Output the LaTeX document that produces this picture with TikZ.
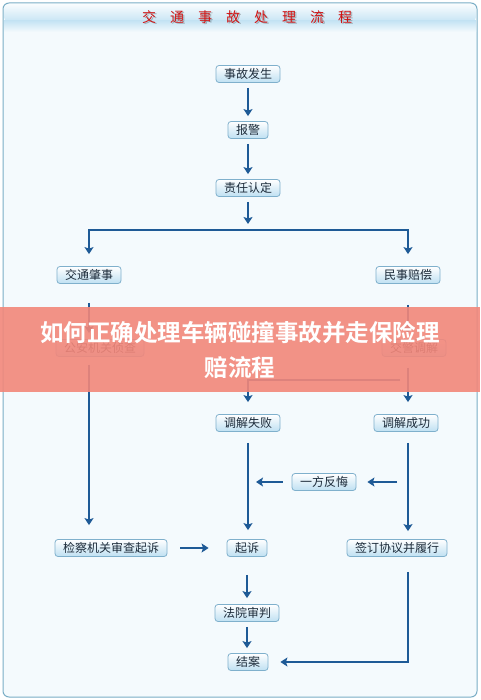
\documentclass[tikz,border=0pt]{standalone}
\usepackage{fontspec}
\newfontfamily\cjk{Noto Sans CJK SC}
\newfontfamily\cjkbold{Noto Sans CJK SC Bold}
\usetikzlibrary{arrows.meta}
\definecolor{flowblue}{HTML}{1E5A96}
\definecolor{boxline}{HTML}{7FB0CC}
\definecolor{boxfill}{HTML}{BFE0F2}
\definecolor{boxtext}{HTML}{1C2B3A}
\definecolor{pagebg}{HTML}{F4FAFD}
\definecolor{frameline}{HTML}{7AAEC6}
\definecolor{bandblue}{HTML}{C6E4F4}
\definecolor{titlered}{HTML}{D01414}
\definecolor{banner}{HTML}{F2877A}
\tikzset{
  box/.style={draw=boxline, line width=0.8pt, rounded corners=3pt, top color=white, bottom color=boxfill,
    minimum height=17pt, inner xsep=8pt, inner ysep=0pt, text=boxtext, font=\cjk\fontsize{12}{12}\selectfont},
  link/.style={draw=flowblue, line width=2pt, -{Stealth[length=7pt,width=9pt,inset=1.5pt]}, shorten <=5pt, shorten >=5pt},
  titlechar/.style={font=\cjk\fontsize{14}{14}\selectfont, inner sep=0pt}
}
\begin{document}
\begin{tikzpicture}[x=1pt,y=-1pt]
\useasboundingbox (0,0) rectangle (480,700);
\fill[white] (0,0) rectangle (480,700);
\draw[frameline, fill=pagebg, line width=1pt, rounded corners=6pt] (3,3) rectangle (477,697);
\shade[top color=pagebg!60!white, bottom color=bandblue, rounded corners=5pt] (4,4) rectangle (476,22);
\shade[top color=bandblue, bottom color=pagebg] (4,21) rectangle (476,32);
\foreach \c [count=\i] in {交,通,事,故,处,理,流,程} {
  \node[titlechar, text=black, opacity=0.25] at ({122.5+28*\i},18.5) {\c};
  \node[titlechar, text=titlered] (t\i) at ({121+28*\i},17) {\c};
}

\node[box] (accident) at (248,74) {事故发生};
\node[box] (report) at (248,130) {报警};
\node[box] (duty) at (248,188) {责任认定};
\node[box] (traffic) at (89,275) {交通肇事};
\node[box] (civil) at (408,275) {民事赔偿};
\node[box] (police) at (100,348) {公安机关侦查};
\node[box] (mediate) at (414,348) {交警调解};
\node[box] (fail) at (248,423) {调解失败};
\node[box] (success) at (406,423) {调解成功};
\node[box] (regret) at (324,482) {一方反悔};
\node[box] (procur) at (111,548) {检察机关审查起诉};
\node[box] (sue) at (247,548) {起诉};
\node[box] (sign) at (397,548) {签订协议并履行};
\node[box] (court) at (247,613) {法院审判};
\node[box] (close) at (248,662) {结案};

\coordinate (split) at (248,230);
\coordinate (turn) at (400,380);
\draw[link] (accident) -- (report);
\draw[link] (report) -- (duty);
\draw[link, shorten >=6pt] (duty) -- (split);
\draw[link, shorten <=0pt, shorten >=12pt] (split) -| (traffic);
\draw[link, shorten <=0pt, shorten >=12pt] (split) -| (civil);
\draw[link, shorten <=19pt, shorten >=6pt] (traffic.south) -- (traffic.south |- police.north);
\draw[link, shorten <=8pt, shorten >=14pt] (traffic.south |- police.south) -- (traffic.south |- procur.north);
\draw[link, shorten <=21pt, shorten >=6pt] (civil.south) -- (civil.south |- mediate.north);
\draw[link, shorten <=11pt, shorten >=12pt] (civil.south |- mediate.south) -- (civil.south |- success.north);
\draw[link, shorten <=0pt, shorten >=12pt] (turn) -| (fail);
\draw[link, shorten <=11pt, shorten >=9pt] (fail.south) -- (fail.south |- sue.north);
\draw[link, shorten <=11pt, shorten >=8pt] (civil.south |- success.south) -- (civil.south |- sign.north);
\draw[link, shorten <=11pt, shorten >=11pt] (civil.south |- regret) -- (regret);
\draw[link, shorten <=9pt, shorten >=8pt] (regret) -- (fail |- regret);
\draw[link, shorten <=13pt, shorten >=18pt] (procur) -- (sue);
\draw[link, shorten <=18pt, shorten >=6pt] (sue) -- (court);
\draw[link] (court.south) -- (court.south |- close.north);
\draw[link, shorten <=15pt, shorten >=12pt] (civil.south |- sign.south) |- (close);

\fill[banner, opacity=0.9] (0,307) rectangle (480,392);
\node[text=white, align=center, font=\cjkbold\fontsize{23.5}{35}\selectfont] (headline) at (240,350) {如何正确处理车辆碰撞事故并走保险理\\赔流程};
\end{tikzpicture}
\end{document}
